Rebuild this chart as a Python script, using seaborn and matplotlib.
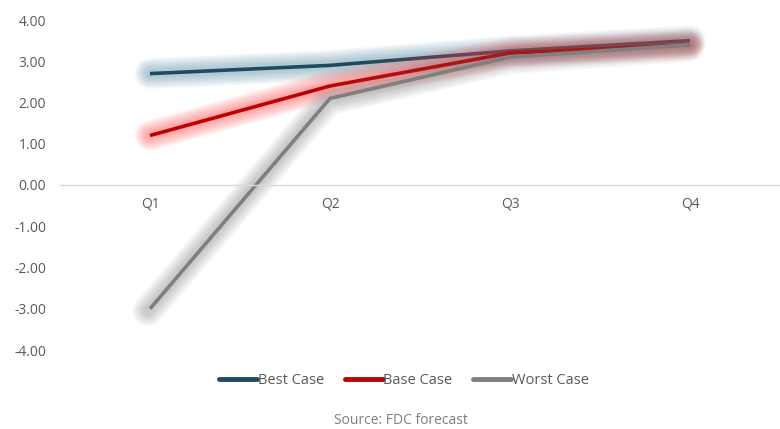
import matplotlib
matplotlib.use("Agg")
import matplotlib.pyplot as plt
import matplotlib.patheffects as pe
import pandas as pd
import seaborn as sns

quarters = ["Q1", "Q2", "Q3", "Q4"]
best_case = [2.7, 2.9, 3.25, 3.5]
base_case = [1.2, 2.4, 3.2, 3.4]
worst_case = [-3.0, 2.1, 3.1, 3.4]
series_names = ["Best Case", "Base Case", "Worst Case"]
y_ticks = [4, 3, 2, 1, 0, -1, -2, -3, -4]

line_colors = {"Best Case": "#1f4b5e", "Base Case": "#c00000", "Worst Case": "#7f7f7f"}
glow_colors = {"Best Case": "#6f9bb2", "Base Case": "#ff4040", "Worst Case": "#6a6a6a"}
glow_alpha = {"Best Case": 0.075, "Base Case": 0.06, "Worst Case": 0.045}

df = pd.DataFrame({
    "Quarter": quarters * 3,
    "Value": best_case + base_case + worst_case,
    "Scenario": [s for s in series_names for _ in quarters],
})

sns.set_theme(style="white")
plt.rcParams["font.family"] = ["Open Sans", "DejaVu Sans"]

fig = plt.figure(figsize=(7.8, 4.29), dpi=100)
ax = fig.add_axes([60 / 780, 1 - 350 / 429, 720 / 780, 330 / 429])

sns.lineplot(data=df, x="Quarter", y="Value", hue="Scenario",
             palette=line_colors, hue_order=series_names,
             linewidth=2.6, sort=False, legend=False, ax=ax)

# soft glow around each series line, built from stacked translucent strokes
for line, name in zip(ax.get_lines(), series_names):
    g = glow_colors[name]
    effects = []
    offset = (-1.5, -1.5) if name == "Worst Case" else (0, 0)
    for w in range(22, 4, -2):
        effects.append(pe.Stroke(linewidth=w, foreground=g, alpha=glow_alpha[name],
                                 offset=offset, capstyle="round", joinstyle="round"))
    effects.append(pe.Normal())
    line.set_path_effects(effects)
    line.set_solid_capstyle("butt")

ax.set_xlim(-0.5, 3.5)
ax.set_ylim(-4, 4)
ax.set_yticks(y_ticks)
ax.set_yticklabels([f"{v:.2f}" for v in y_ticks])
ax.set_xlabel("")
ax.set_ylabel("")

for side in ["top", "right", "left"]:
    ax.spines[side].set_visible(False)
ax.spines["bottom"].set_position(("data", 0))
ax.spines["bottom"].set_color("#d9d9d9")
ax.spines["bottom"].set_linewidth(1.0)
ax.tick_params(axis="both", length=0, labelsize=10, labelcolor="#595959")
ax.tick_params(axis="x", pad=8)
ax.tick_params(axis="y", pad=10)

handles = [plt.Line2D([0], [0], color=line_colors[n], linewidth=3.5) for n in series_names]
fig.legend(handles, series_names, loc="center", bbox_to_anchor=(0.518, 1 - 381 / 429),
           ncol=3, frameon=False, fontsize=10.5, handlelength=2.6, handletextpad=0.05,
           columnspacing=1.4, labelcolor="#595959")

fig.text(0.514, 1 - 421 / 429, "Source: FDC forecast", ha="center", va="center",
         fontsize=10, color="#7f7f7f")

fig.savefig("out.png", dpi=100)
